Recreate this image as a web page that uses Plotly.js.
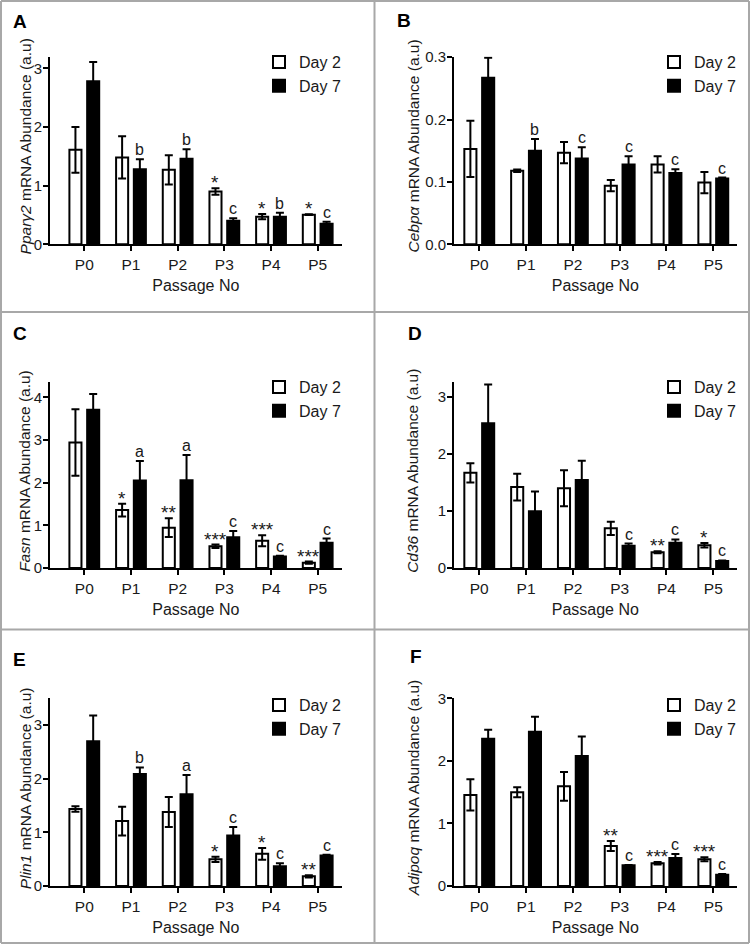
<!DOCTYPE html>
<html><head><meta charset="utf-8">
<script src="https://cdn.plot.ly/plotly-3.0.1.min.js"></script>
<style>html,body{margin:0;padding:0;background:#fff}</style>
</head><body><div id="chart" style="width:751px;height:945px"></div>
<script>
const passages = ["P0","P1","P2","P3","P4","P5"];
const seriesNames = ["Day 2","Day 7"];
const xTitle = "Passage No";

// A: Pparg2
const ppar_d2 = [1.61,1.48,1.27,0.90,0.47,0.505];
const ppar_d2_err = [0.39,0.36,0.25,0.055,0.045,0.006];
const ppar_d7 = [2.78,1.28,1.46,0.40,0.47,0.35];
const ppar_d7_err = [0.33,0.17,0.16,0.045,0.07,0.035];
const ppar_d2_sig = ["","","","*","*","*"];
const ppar_d7_sig = ["","b","b","c","b","c"];

// B: Cebpa
const cebpa_d2 = [0.153,0.118,0.147,0.094,0.128,0.099];
const cebpa_d2_err = [0.045,0.002,0.017,0.009,0.013,0.017];
const cebpa_d7 = [0.267,0.150,0.1375,0.128,0.1145,0.1055];
const cebpa_d7_err = [0.032,0.019,0.018,0.013,0.006,0.0015];
const cebpa_d2_sig = ["","","","","",""];
const cebpa_d7_sig = ["","b","c","c","c","c"];

// C: Fasn
const fasn_d2 = [2.945,1.36,0.945,0.51,0.64,0.125];
const fasn_d2_err = [0.78,0.15,0.22,0.04,0.13,0.025];
const fasn_d7 = [3.71,2.05,2.06,0.72,0.27,0.59];
const fasn_d7_err = [0.37,0.46,0.59,0.15,0.02,0.10];
const fasn_d2_sig = ["","*","**","***","***","***"];
const fasn_d7_sig = ["","a","a","c","c","c"];

// D: Cd36
const cd36_d2 = [1.67,1.42,1.40,0.696,0.275,0.40];
const cd36_d2_err = [0.17,0.235,0.315,0.117,0.018,0.04];
const cd36_d7 = [2.54,0.994,1.544,0.39,0.444,0.123];
const cd36_d7_err = [0.68,0.35,0.34,0.04,0.058,0.01];
const cd36_d2_sig = ["","","","","**","*"];
const cd36_d7_sig = ["","","","c","c","c"];

// E: Plin1
const plin1_d2 = [1.435,1.21,1.38,0.497,0.60,0.18];
const plin1_d2_err = [0.05,0.27,0.28,0.05,0.11,0.02];
const plin1_d7 = [2.70,2.09,1.71,0.94,0.366,0.571];
const plin1_d7_err = [0.48,0.12,0.36,0.16,0.056,0.012];
const plin1_d2_sig = ["","","","*","*","**"];
const plin1_d7_sig = ["","b","a","c","c","c"];

// F: Adipoq
const adipoq_d2 = [1.455,1.497,1.593,0.639,0.362,0.426];
const adipoq_d2_err = [0.25,0.08,0.23,0.08,0.02,0.032];
const adipoq_d7 = [2.355,2.467,2.078,0.33,0.447,0.181];
const adipoq_d7_err = [0.144,0.24,0.31,0.005,0.064,0.01];
const adipoq_d2_sig = ["","","","**","***","***"];
const adipoq_d7_sig = ["","","","c","c","c"];

const panelLetters = ["A","B","C","D","E","F"];
const geneNames = ["Pparγ2","Cebpα","Fasn","Cd36","Plin1","Adipoq"];
const yTitleSuffix = " mRNA Abundance (a.u)";
const yMaxes = [3.2,0.301,4.37,3.27,3.5,3.0];
const yDticks = [1,0.1,1,1,1,1];

const panels = [
  {d2:ppar_d2,d2e:ppar_d2_err,d7:ppar_d7,d7e:ppar_d7_err,s2:ppar_d2_sig,s7:ppar_d7_sig},
  {d2:cebpa_d2,d2e:cebpa_d2_err,d7:cebpa_d7,d7e:cebpa_d7_err,s2:cebpa_d2_sig,s7:cebpa_d7_sig},
  {d2:fasn_d2,d2e:fasn_d2_err,d7:fasn_d7,d7e:fasn_d7_err,s2:fasn_d2_sig,s7:fasn_d7_sig},
  {d2:cd36_d2,d2e:cd36_d2_err,d7:cd36_d7,d7e:cd36_d7_err,s2:cd36_d2_sig,s7:cd36_d7_sig},
  {d2:plin1_d2,d2e:plin1_d2_err,d7:plin1_d7,d7e:plin1_d7_err,s2:plin1_d2_sig,s7:plin1_d7_sig},
  {d2:adipoq_d2,d2e:adipoq_d2_err,d7:adipoq_d7,d7e:adipoq_d7_err,s2:adipoq_d2_sig,s7:adipoq_d7_sig}
];

const W = 751, H = 945;
const FONT = "Liberation Sans, Arial, sans-serif";
const TXT = "#1a1a1a";
const px = v => v / W;
const py = v => 1 - v / H;

const xDomainsPx = [[50, 341.7], [454, 736.7]];
const yDomainsPx = [[244.3, 56.6], [568, 381.7], [886, 698.3]];
const xDomains = xDomainsPx.map(d => [px(d[0]), px(d[1])]);
const yDomains = yDomainsPx.map(d => [py(d[0]), py(d[1])]);
const xRanges = [[-0.735, 5.514], [-0.54, 5.5]];
const yTitleX = [25, 413];
const legendTops = [45, 370, 688];
const legendLefts = [259, 654];
const letterPos = [[11,21],[395,20],[11,333],[406,333],[11,659],[408,656]];

const BARGAP = 0.24, GROUPGAP = 0.32;
const halfSlot = (1 - BARGAP) / 4;

const data = [];
const layout = {
  width: W, height: H,
  margin: {l:0, r:0, t:0, b:0},
  paper_bgcolor: "#fff", plot_bgcolor: "rgba(0,0,0,0)",
  font: {family: FONT, color: TXT, size: 16},
  barmode: "group", bargap: BARGAP, bargroupgap: GROUPGAP,
  annotations: [], shapes: []
};

panels.forEach((p, i) => {
  const col = i % 2, row = Math.floor(i / 2);
  const sfx = i ? String(i + 1) : "";
  const xa = "x" + sfx, ya = "y" + sfx, lg = "legend" + sfx;
  const specs = [
    {y: p.d2, e: p.d2e, name: seriesNames[0], fill: "#ffffff"},
    {y: p.d7, e: p.d7e, name: seriesNames[1], fill: "#000000"}
  ];
  specs.forEach(s => {
    data.push({
      type: "bar", x: passages, y: s.y, name: s.name,
      xaxis: xa, yaxis: ya, legend: lg, showlegend: true,
      marker: {color: s.fill, line: {color: "#000", width: 2}},
      error_y: {type: "data", array: s.e, visible: true, color: "#000", thickness: 2, width: 4},
      hoverinfo: "skip"
    });
  });
  layout["xaxis" + sfx] = {
    domain: xDomains[col], range: xRanges[col], anchor: ya,
    type: "category", showline: true, linecolor: "#000", linewidth: 2,
    ticks: "outside", ticklen: 5, tickwidth: 2, tickcolor: "#000",
    tickfont: {size: 15.5, color: TXT}, showgrid: false, zeroline: false, fixedrange: true,
    automargin: false,
    title: {text: xTitle, font: {size: 16, color: TXT}, standoff: 8}
  };
  layout["yaxis" + sfx] = {
    domain: yDomains[row], range: [0, yMaxes[i]], anchor: xa,
    showline: true, linecolor: "#000", linewidth: 2,
    ticks: "outside", ticklen: 5, tickwidth: 2, tickcolor: "#000",
    ticklabelstandoff: -2,
    dtick: yDticks[i], tick0: 0, tickformat: yDticks[i] < 1 ? ".1f" : "d",
    tickfont: {size: 15, color: TXT}, showgrid: false, zeroline: false, fixedrange: true,
    automargin: false
  };
  // y-axis title (placed as rotated text beside the axis)
  const yMid = (yDomainsPx[row][0] + yDomainsPx[row][1]) / 2 - 4;
  layout.annotations.push({
    xref: "paper", yref: "paper", x: px(yTitleX[col]), y: py(yMid),
    xanchor: "center", yanchor: "middle", textangle: -90, showarrow: false,
    text: "<i>" + geneNames[i] + "</i>" + yTitleSuffix,
    font: {size: 15.5, color: TXT, family: FONT}
  });
  layout[lg] = {
    x: px(legendLefts[col]), y: py(legendTops[row]), xanchor: "left", yanchor: "top",
    bgcolor: "rgba(0,0,0,0)", borderwidth: 0, font: {size: 16, color: TXT},
    tracegroupgap: 0, itemclick: false, itemdoubleclick: false
  };
  // significance labels
  [[p.s2, p.d2, p.d2e, -halfSlot], [p.s7, p.d7, p.d7e, halfSlot]].forEach(([labels, vals, errs, off]) => {
    labels.forEach((t, k) => {
      if (!t) return;
      const star = t.indexOf("*") >= 0;
      layout.annotations.push({
        xref: xa, yref: ya, x: k + off, y: vals[k] + errs[k],
        text: t, showarrow: false, xanchor: "center", yanchor: "bottom",
        yshift: star ? -7 : -1,
        font: {size: star ? 19 : 16, color: TXT, family: FONT}
      });
    });
  });
  // panel letter
  layout.annotations.push({
    xref: "paper", yref: "paper", x: px(letterPos[i][0]), y: py(letterPos[i][1]),
    xanchor: "left", yanchor: "middle", showarrow: false,
    text: "<b>" + panelLetters[i] + "</b>", font: {size: 19, color: "#000", family: FONT}
  });
});

// panel frame lines
const frame = {type: "line", xref: "paper", yref: "paper", line: {color: "#a8a8a8", width: 2}};
[[1,1,749,1],[1,1,1,943],[749,1,749,943],[1,943,749,943],[374.5,1,374.5,943],[1,312,749,312],[1,629.5,749,629.5]]
  .forEach(([x0,y0,x1,y1]) => layout.shapes.push(Object.assign({}, frame, {x0: px(x0), y0: py(y0), x1: px(x1), y1: py(y1)})));

Plotly.newPlot("chart", data, layout, {displayModeBar: false, staticPlot: true});
</script></body></html>
